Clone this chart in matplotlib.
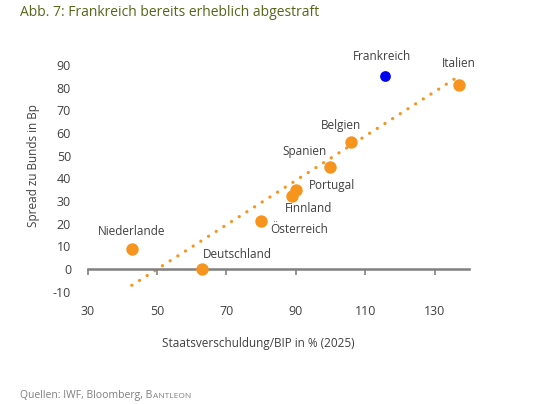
import matplotlib.pyplot as plt
from matplotlib.ticker import FixedLocator

plt.rcParams['font.family'] = ['Open Sans', 'DejaVu Sans']
plt.rcParams['axes.unicode_minus'] = False

# Daten: Staatsverschuldung/BIP (2025) und Spread zu Bunds
laender = ["Italien", "Belgien", "Spanien", "Portugal", "Finnland",
           "Österreich", "Niederlande", "Deutschland"]
schulden = [136.9, 105.9, 99.9, 90.1, 88.9, 79.9, 42.9, 63.0]
spread = [81, 56, 45, 35, 32, 21, 9, 0]

frankreich_schulden = 115.8
frankreich_spread = 85

# Trendlinie (Endpunkte)
trend_x = [42.7, 135.7]
trend_y = [-7.2, 83.8]

x_ticks = [30, 50, 70, 90, 110, 130]
y_ticks = [-10, 0, 10, 20, 30, 40, 50, 60, 70, 80, 90]

# Beschriftungsversatz in Pixeln (dx, dy)
label_offsets = {
    "Frankreich": (-3, 20),
    "Italien": (0, 22),
    "Belgien": (-10, 17),
    "Spanien": (-26, 16),
    "Portugal": (36, 4),
    "Finnland": (17, -12),
    "Österreich": (38, -8),
    "Niederlande": (-1, 17),
    "Deutschland": (35, 15),
}

orange = "#F7941D"
blau = "#0000F0"
text_col = "#404040"

fig = plt.figure(figsize=(5.36, 4.04), dpi=100)
ax = fig.add_axes([87.7 / 536, 112.3 / 404, 381.6 / 536, 226.7 / 404])

ax.plot(trend_x, trend_y, color=orange, linewidth=2.3,
        linestyle=(0, (0.05, 2.8)), dash_capstyle='round', zorder=2)
ax.scatter(schulden, spread, s=80, color=orange, linewidths=0, zorder=3)
ax.scatter([frankreich_schulden], [frankreich_spread], s=60, color=blau,
           linewidths=0, zorder=3)

alle_x = schulden + [frankreich_schulden]
alle_y = spread + [frankreich_spread]
for name, xv, yv in zip(laender + ["Frankreich"], alle_x, alle_y):
    dx, dy = label_offsets[name]
    ax.annotate(name, (xv, yv), xytext=(dx, dy), textcoords='offset pixels',
                ha='center', va='center', fontsize=8.5, color=text_col,
                annotation_clip=False)

ax.set_xlim(30, 140)
ax.set_ylim(-10, 90)
ax.xaxis.set_major_locator(FixedLocator(x_ticks))
ax.yaxis.set_major_locator(FixedLocator(y_ticks))

for side in ['top', 'right', 'left']:
    ax.spines[side].set_visible(False)
ax.spines['bottom'].set_position(('data', 0))
ax.spines['bottom'].set_color('#808080')
ax.spines['bottom'].set_linewidth(1.8)

ax.tick_params(axis='x', direction='out', length=4, width=1.2, color='#808080',
               pad=22, labelsize=9, labelcolor=text_col)
ax.tick_params(axis='y', length=0, pad=12, labelsize=9, labelcolor=text_col)
ax.patch.set_visible(False)

fig.text(34 / 536, 1 - 166 / 404, "Spread zu Bunds in Bp", rotation=90,
         ha='center', va='center', fontsize=8.5, color=text_col)
fig.text(258 / 536, 1 - 343 / 404, "Staatsverschuldung/BIP in % (2025)",
         ha='center', va='center', fontsize=8.5, color=text_col)

fig.text(20 / 536, 1 - 12 / 404, "Abb. 7: Frankreich bereits erheblich abgestraft",
         ha='left', va='center', fontsize=10, color='#56661A')

# Quelle mit Kapitälchen für BANTLEON
quelle_y = 1 - 398 / 404
quelle = fig.text(20 / 536, quelle_y, "Quellen: IWF, Bloomberg, B",
                  ha='left', va='baseline', fontsize=7.5, color='#7F7F7F')
fig.canvas.draw()
bb = quelle.get_window_extent()
fig.text(bb.x1 / fig.bbox.width + 0.001, quelle_y, "ANTLEON",
         ha='left', va='baseline', fontsize=6, color='#7F7F7F')

fig.savefig("out.png", dpi=100)
